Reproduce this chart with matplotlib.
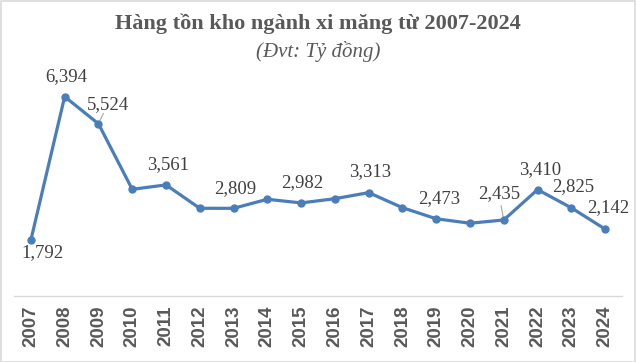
import matplotlib
matplotlib.use("Agg")
import matplotlib.pyplot as plt
from matplotlib.patches import Rectangle

years = ["2007", "2008", "2009", "2010", "2011", "2012", "2013", "2014", "2015",
         "2016", "2017", "2018", "2019", "2020", "2021", "2022", "2023", "2024"]
values = [1792, 6394, 5524, 3420, 3561, 2810, 2809, 3100, 2982,
          3118, 3313, 2830, 2473, 2330, 2435, 3410, 2825, 2142]
# labelled points: year -> (dx, dy) in pixels, leader line flag
labels = {
    "2007": (12, -13, False),
    "2008": (2, 20, False),
    "2009": (9, 19, True),
    "2011": (2, 20, False),
    "2013": (2, 20, False),
    "2015": (1, 20, False),
    "2017": (1, 21, False),
    "2019": (3, 20, False),
    "2021": (-5, 26, True),
    "2022": (3, 20, False),
    "2023": (2, 21, False),
    "2024": (3, 21, False),
}

W, H = 636, 362
fig = plt.figure(figsize=(W / 100, H / 100), dpi=100)
fig.patch.set_facecolor("white")

left, right = 14, 622
zero_y, top_y = 295.8, 77.8
ax = fig.add_axes([left / W, (H - zero_y) / H, (right - left) / W, (zero_y - top_y) / H])
ax.set_facecolor("white")

x = list(range(len(years)))
line_color = "#4A7EBB"
ax.plot(x, values, color=line_color, lw=2.3, marker="o", markersize=5,
        markerfacecolor=line_color, markeredgecolor=line_color, solid_capstyle="round",
        zorder=3)

ax.set_xlim(-0.5, len(years) - 0.5)
ax.set_ylim(0, 7000)
ax.set_yticks([])
ax.set_xticks(x)
ax.set_xticklabels(years, rotation=90, fontfamily="Liberation Sans", fontweight="bold",
                   fontsize=13.5, color="#595959")
ax.tick_params(axis="x", length=0, pad=7)
for s in ["top", "right", "left"]:
    ax.spines[s].set_visible(False)
ax.spines["bottom"].set_color("#D9D9D9")
ax.spines["bottom"].set_linewidth(1)

for i, (yr, v) in enumerate(zip(years, values)):
    if yr in labels:
        dx, dy, leader = labels[yr]
        ax.annotate(f"{v:,}", xy=(i, v), xytext=(dx, dy), textcoords="offset pixels",
                    ha="center", va="center", fontsize=13.5, fontfamily="Liberation Serif",
                    color="#404040", zorder=4)
        if leader:
            ax.annotate("", xy=(i, v), xytext=(dx * 0.55, dy * 0.55),
                        textcoords="offset pixels",
                        arrowprops=dict(arrowstyle="-", color="#A6A6A6", lw=0.8,
                                        shrinkA=0, shrinkB=2), zorder=2)

fig.text(318 / W, 1 - 24 / H, "Hàng tồn kho ngành xi măng từ 2007-2024",
         ha="center", va="center", fontsize=16, fontweight="bold",
         fontfamily="Liberation Serif", color="#595959")
fig.text(318 / W, 1 - 51 / H, "(Đvt: Tỷ đồng)", ha="center", va="center",
         fontsize=15, fontstyle="italic", fontfamily="Liberation Serif", color="#595959")

fig.patches.append(Rectangle((0.5 / W, 0.5 / H), (W - 1.5) / W, (H - 1.5) / H,
                             transform=fig.transFigure, fill=False,
                             edgecolor="#D9D9D9", lw=1.2))

fig.savefig("out.png", dpi=100)
